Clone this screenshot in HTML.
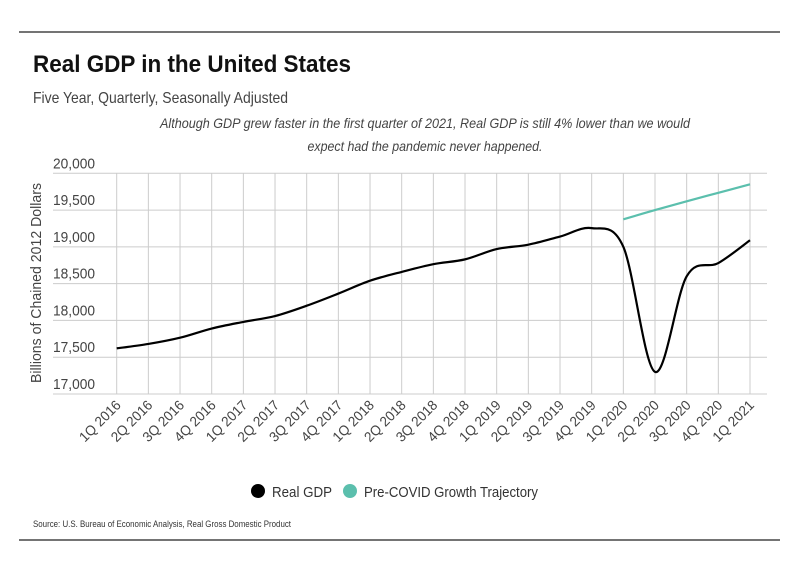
<!DOCTYPE html>
<html><head><meta charset="utf-8"><style>
body{margin:0;background:#fff}
svg{display:block;font-family:"Liberation Sans",sans-serif}
</style></head><body>
<svg id="c" width="799" height="575" viewBox="0 0 799 575">
<line x1="19" y1="32" x2="780" y2="32" stroke="#222" stroke-width="1.2"/>
<text x="33" y="72" font-size="24" font-weight="bold" fill="#111" textLength="318" lengthAdjust="spacingAndGlyphs">Real GDP in the United States</text>
<text x="33" y="103" font-size="16" fill="#444" textLength="255" lengthAdjust="spacingAndGlyphs">Five Year, Quarterly, Seasonally Adjusted</text>
<text x="425" y="128" font-size="14" font-style="italic" fill="#444" text-anchor="middle" textLength="530" lengthAdjust="spacingAndGlyphs">Although GDP grew faster in the first quarter of 2021, Real GDP is still 4% lower than we would</text>
<text x="425" y="151" font-size="14" font-style="italic" fill="#444" text-anchor="middle" textLength="235" lengthAdjust="spacingAndGlyphs">expect had the pandemic never happened.</text>
<g id="grid"></g><g id="ylab"></g><g id="xlab"></g><g id="series"></g>
<text transform="translate(41,283) rotate(-90)" font-size="15" fill="#444" text-anchor="middle" textLength="200" lengthAdjust="spacingAndGlyphs">Billions of Chained 2012 Dollars</text>
<g>
<g><circle cx="258" cy="491" r="7" fill="#000"/><text x="272" y="497" font-size="15" fill="#333" textLength="60" lengthAdjust="spacingAndGlyphs">Real GDP</text></g>
<g><circle cx="350" cy="491" r="7" fill="#5bbfad"/><text x="364" y="497" font-size="15" fill="#333" textLength="174" lengthAdjust="spacingAndGlyphs">Pre-COVID Growth Trajectory</text></g>
</g>
<text x="33" y="527" font-size="9" fill="#333" textLength="258" lengthAdjust="spacingAndGlyphs">Source:  U.S. Bureau of Economic Analysis, Real Gross Domestic Product</text>
<line x1="19" y1="540" x2="780" y2="540" stroke="#222" stroke-width="1.2"/>
</svg>
<script>
const categories=["1Q 2016","2Q 2016","3Q 2016","4Q 2016","1Q 2017","2Q 2017","3Q 2017","4Q 2017","1Q 2018","2Q 2018","3Q 2018","4Q 2018","1Q 2019","2Q 2019","3Q 2019","4Q 2019","1Q 2020","2Q 2020","3Q 2020","4Q 2020","1Q 2021"];
const realGdp=[17620,17680,17765,17890,17980,18060,18200,18365,18540,18660,18765,18830,18970,19030,19140,19255,19000,17300,18600,18780,19090];
const trendStart=16;
const trend=[19375,19500,19620,19735,19850];
const yTicks=[17000,17500,18000,18500,19000,19500,20000];
const yTickLabels=["17,000","17,500","18,000","18,500","19,000","19,500","20,000"];
const NS="http://www.w3.org/2000/svg";
const x0=116.7,x1=750,yb=394,yt=173.3,ymin=17000,ymax=20000;
const xs=i=>x0+(x1-x0)*i/(categories.length-1);
const ys=v=>yb-(yb-yt)*(v-ymin)/(ymax-ymin);
function mk(tag,attrs,parent){const e=document.createElementNS(NS,tag);for(const k in attrs)e.setAttribute(k,attrs[k]);parent.appendChild(e);return e;}
const grid=document.getElementById('grid'),ylab=document.getElementById('ylab'),xlab=document.getElementById('xlab'),ser=document.getElementById('series');
yTicks.forEach((v,i)=>{
 const l=mk('line',{x1:53,x2:767,y1:ys(v),y2:ys(v),stroke:'#ccc','stroke-width':1},grid);
 
 
 const t=mk('text',{x:95,y:ys(v)-5,'font-size':15,fill:'#444','text-anchor':'end',textLength:42,lengthAdjust:'spacingAndGlyphs'},ylab);
 t.textContent=yTickLabels[i];
 
 
});
categories.forEach((c,i)=>{
 const l=mk('line',{x1:xs(i),x2:xs(i),y1:yt,y2:yb,stroke:'#ccc','stroke-width':1},grid);
 
 
 const t=mk('text',{transform:`translate(${xs(i)+5},${yb+12}) rotate(-45)`,'font-size':14,fill:'#444','text-anchor':'end',textLength:52,lengthAdjust:'spacingAndGlyphs'},xlab);
 t.textContent=c;
 
 
});
function smooth(pts){let d=`M${pts[0][0]},${pts[0][1]}`;for(let i=0;i<pts.length-1;i++){const p0=pts[i-1]||pts[i],p1=pts[i],p2=pts[i+1],p3=pts[i+2]||p2;const c1=[p1[0]+(p2[0]-p0[0])/6,p1[1]+(p2[1]-p0[1])/6],c2=[p2[0]-(p3[0]-p1[0])/6,p2[1]-(p3[1]-p1[1])/6];d+=` C${c1[0]},${c1[1]} ${c2[0]},${c2[1]} ${p2[0]},${p2[1]}`;}return d;}
const g=mk('path',{d:smooth(realGdp.map((v,i)=>[xs(i),ys(v)])),fill:'none',stroke:'#000','stroke-width':2.2},ser);


const tr=mk('path',{d:smooth(trend.map((v,i)=>[xs(trendStart+i),ys(v)])),fill:'none',stroke:'#5bbfad','stroke-width':2.2},ser);


</script>
</body></html>
